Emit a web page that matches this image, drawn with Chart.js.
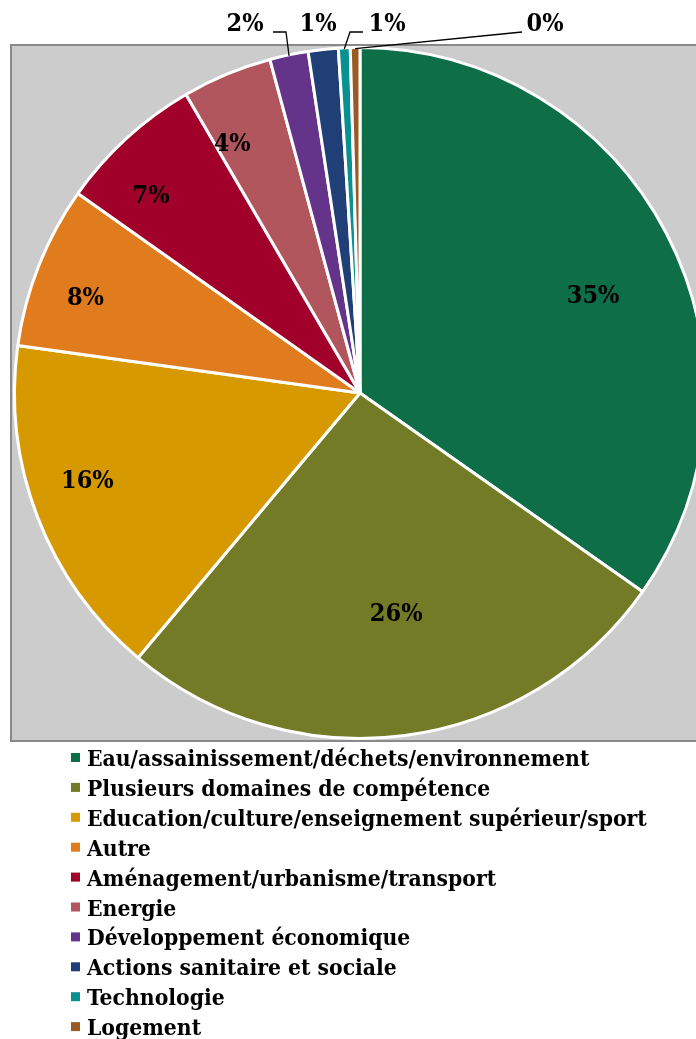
<!DOCTYPE html>
<html lang="fr">
<head>
  <meta charset="UTF-8">
  <title>Répartition par domaine</title>
  <script src="https://cdn.jsdelivr.net/npm/chart.js"></script>
  <style>
    html, body { margin: 0; padding: 0; background: #fff; overflow: hidden; }
    #wrap { width: 696px; height: 1039px; overflow: hidden; position: relative; }
    canvas { position: absolute; left: 0; top: 0; }
  </style>
</head>
<body>
<div id="wrap">
  <canvas id="pie" width="740" height="1039"></canvas>
</div>

<script>
  // domaines et parts (%)
  const domaines = [
    'Eau/assainissement/déchets/environnement',
    'Plusieurs domaines de compétence',
    'Education/culture/enseignement supérieur/sport',
    'Autre',
    'Aménagement/urbanisme/transport',
    'Energie',
    'Développement économique',
    'Actions sanitaire et sociale',
    'Technologie',
    'Logement'
  ];
  const parts = [34.75, 26.35, 16.1, 7.6, 6.8, 4.2, 1.8, 1.4, 0.55, 0.45];
  const couleurs = ['#0e6e47', '#747b27', '#d69a00', '#e07b1e', '#a0002a',
                    '#b0565c', '#64338a', '#203f77', '#089191', '#9a5b22'];

  const POLICE = '"DejaVu Serif Condensed", "Liberation Serif", serif';
  const FONT_PCT = 'bold 25px ' + POLICE;
  const FONT_LEG = 'bold 22.7px ' + POLICE;

  // placement des étiquettes : dans la part [rayon relatif, décalage en degrés]
  // ou à l'extérieur, au-dessus du graphique, avec un trait de rappel
  const placement = [
    { r: 0.73, d: 5 },
    { r: 0.65, d: -1.8 },
    { r: 0.83, d: 3 },
    { r: 0.84, d: -2.7 },
    { r: 0.83, d: -4.3 },
    { r: 0.81, d: -4.5 },
    { x: 245, y: 24, coude: 286, bout: 273 },
    { x: 318, y: 24 },
    { x: 387, y: 24, coude: 350, bout: 363 },
    { x: 545, y: 24, bout: 522 }
  ];

  const zoneGrise = {
    id: 'zoneGrise',
    beforeDraw(chart) {
      const c = chart.ctx;
      c.save();
      c.fillStyle = '#cccccc';
      c.fillRect(11, 45, chart.width, 696);
      c.strokeStyle = '#898989';
      c.lineWidth = 2;
      c.strokeRect(11, 45, chart.width, 696);
      c.restore();
    }
  };

  const etiquettes = {
    id: 'etiquettes',
    afterDatasetsDraw(chart) {
      const c = chart.ctx;
      const arcs = chart.getDatasetMeta(0).data;
      const vals = chart.data.datasets[0].data;
      c.save();
      c.font = FONT_PCT;
      c.fillStyle = '#000';
      c.strokeStyle = '#000';
      c.lineWidth = 1.3;
      c.textAlign = 'center';
      c.textBaseline = 'middle';
      arcs.forEach((arc, i) => {
        const p = placement[i];
        const txt = Math.round(vals[i]) + '%';
        const mid = (arc.startAngle + arc.endAngle) / 2;
        if (p.r !== undefined) {
          const a = mid + p.d * Math.PI / 180;
          const rr = arc.outerRadius * p.r;
          c.fillText(txt, arc.x + Math.cos(a) * rr, arc.y + Math.sin(a) * rr);
          return;
        }
        c.fillText(txt, p.x, p.y);
        if (p.bout === undefined) return;
        const sx = arc.x + Math.cos(mid) * (arc.outerRadius - 1);
        const sy = arc.y + Math.sin(mid) * (arc.outerRadius - 1);
        c.beginPath();
        c.moveTo(sx, sy);
        if (p.coude !== undefined) c.lineTo(p.coude, 32);
        c.lineTo(p.bout, 32);
        c.stroke();
      });
      c.restore();
    }
  };

  const legende = {
    id: 'legende',
    afterDraw(chart) {
      const c = chart.ctx;
      const labels = chart.data.labels;
      const bg = chart.data.datasets[0].backgroundColor;
      c.save();
      c.font = FONT_LEG;
      c.textAlign = 'left';
      c.textBaseline = 'alphabetic';
      labels.forEach((lab, i) => {
        const base = 766 + i * 29.9;
        c.fillStyle = bg[i];
        c.fillRect(71, base - 13, 9, 9);
        c.fillStyle = '#000';
        c.fillText(lab, 87, base);
      });
      c.restore();
    }
  };

  new Chart(document.getElementById('pie'), {
    type: 'pie',
    data: {
      labels: domaines,
      datasets: [{
        data: parts,
        backgroundColor: couleurs,
        borderColor: '#ffffff',
        borderWidth: 3
      }]
    },
    options: {
      responsive: false,
      animation: false,
      devicePixelRatio: 1,
      layout: { padding: { left: 13, right: 33, top: 46, bottom: 299 } },
      plugins: {
        legend: { display: false },
        tooltip: { enabled: false }
      }
    },
    plugins: [zoneGrise, etiquettes, legende]
  });
</script>
</body>
</html>
